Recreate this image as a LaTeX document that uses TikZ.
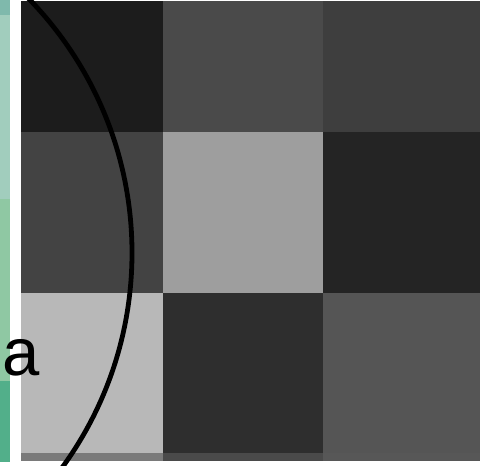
\documentclass[tikz,border=0pt]{standalone}
\usepackage{fontspec}
\setmainfont{Liberation Sans}
\definecolor{sA}{HTML}{7FB9AC}
\definecolor{sB}{HTML}{A1CDBD}
\definecolor{sC}{HTML}{8FC8A3}
\definecolor{sD}{HTML}{52AF8A}
\definecolor{g11}{HTML}{1C1C1C}
\definecolor{g12}{HTML}{4A4A4A}
\definecolor{g13}{HTML}{3E3E3E}
\definecolor{g21}{HTML}{434343}
\definecolor{g22}{HTML}{9E9E9E}
\definecolor{g23}{HTML}{242424}
\definecolor{g31}{HTML}{B8B8B8}
\definecolor{g32}{HTML}{2E2E2E}
\definecolor{g33}{HTML}{555555}
\definecolor{g41}{HTML}{7A7A7A}
\definecolor{g42}{HTML}{4A4A4A}
\definecolor{g43}{HTML}{575757}
\begin{document}
\begin{tikzpicture}[x=1pt,y=1pt,
  band/.style={fill=#1},
  curve/.style={line width=4.8pt, black}]
\useasboundingbox (0,0) rectangle (489,465);
\fill[white] (0,0) rectangle (489,465);
% left colour strip
\fill[band=sA] (0,465) rectangle (10,450);
\fill[band=sB] (0,450) rectangle (10,266);
\fill[band=sC] (0,266) rectangle (10,84);
\fill[band=sD] (0,84) rectangle (10,3);
% grid of cells
\fill[g11] (21,464) rectangle (163,333);
\fill[g12] (163,464) rectangle (323,333);
\fill[g13] (323,464) rectangle (480,333);
\fill[g21] (21,333) rectangle (163,172);
\fill[g22] (163,333) rectangle (323,172);
\fill[g23] (323,333) rectangle (480,172);
\fill[g31] (21,172) rectangle (163,12);
\fill[g32] (163,172) rectangle (323,12);
\fill[g33] (323,172) rectangle (480,12);
\fill[g41] (21,12) rectangle (163,4);
\fill[g42] (163,12) rectangle (323,4);
\fill[g43] (323,12) rectangle (480,4);
% arc
\begin{scope}
\clip (0,0) rectangle (489,465);
\draw[curve] (-232.6,212.1) circle (364.6);
\end{scope}
% label
\node[anchor=base west, inner sep=0pt, font=\fontsize{67}{67}\selectfont] (lbl) at (2.5,89) {a};
\end{tikzpicture}
\end{document}
